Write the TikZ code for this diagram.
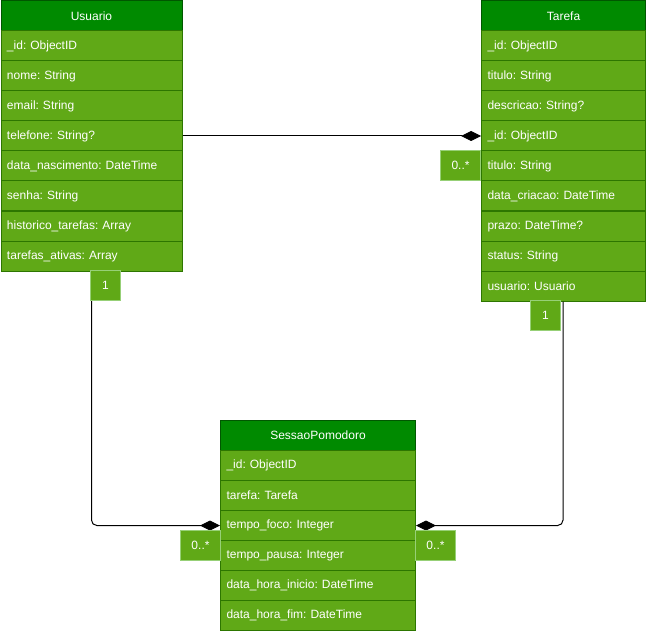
\documentclass[tikz,border=0pt]{standalone}
\usepackage{fontspec}
\setmainfont{Liberation Sans}
\usetikzlibrary{arrows.meta}
\definecolor{hdrfill}{HTML}{008A00}
\definecolor{hdrline}{HTML}{005700}
\definecolor{rowfill}{HTML}{60A917}
\definecolor{rowline}{HTML}{2D7600}
\definecolor{multline}{HTML}{97D077}
\begin{document}
\frenchspacing
\begin{tikzpicture}[x=0.75pt,y=-0.75pt,
  cell/.style={draw=rowline, fill=rowfill, text=white, font=\fontsize{9}{11}\selectfont\frenchspacing,
    minimum height=22.5pt, inner ysep=0pt, inner xsep=4.5pt, anchor=north west,
    align=left, line width=0.75pt},
  hdr/.style={cell, draw=hdrline, fill=hdrfill, align=center},
  mult/.style={draw=multline, fill=rowfill, text=white, font=\fontsize{9}{11}\selectfont,
    minimum height=22.5pt, inner sep=0pt, anchor=north west, line width=0.75pt},
  conn/.style={draw=black, line width=0.75pt, -{Diamond[length=15pt,width=7.5pt]}},
  uw/.style={text width=126.75pt},
  tw/.style={text width=114pt},
  sw/.style={text width=137.25pt}
]
\useasboundingbox (0,0) rectangle (646,631);

% Usuario
\node[hdr,uw] (u0) at (0.5,0.5) {Usuario};
\foreach \t [count=\i] in {\_id: ObjectID, nome: String, email: String, telefone: String?,
  data\_nascimento: DateTime, senha: String, historico\_tarefas: Array, tarefas\_ativas: Array}
  \node[cell,uw] (u\i) at (0.5,0.5+30*\i) {\t};

% Tarefa
\node[hdr,tw] (t0) at (481,0.5) {Tarefa};
\foreach \t [count=\i] in {\_id: ObjectID, titulo: String, descricao: String?, \_id: ObjectID,
  titulo: String, data\_criacao: DateTime, prazo: DateTime?, status: String, usuario: Usuario}
  \node[cell,tw] (t\i) at (481,0.5+30*\i) {\t};

% SessaoPomodoro
\node[hdr,sw] (s0) at (220,420) {SessaoPomodoro};
\foreach \t [count=\i] in {\_id: ObjectID, tarefa: Tarefa, tempo\_foco: Integer,
  tempo\_pausa: Integer, data\_hora\_inicio: DateTime, data\_hora\_fim: DateTime}
  \node[cell,sw] (s\i) at (220,420+30*\i) {\t};

% connectors
\draw[conn] (u4.east) -- (t4.west);
\draw[conn, rounded corners=4pt] ([xshift=68.25pt]u8.south west) |- (s3.west);
\draw[conn, rounded corners=4pt] ([xshift=61.5pt]t9.south west) |- (s3.east);

% multiplicities
\node[mult, minimum width=30pt] (m1) at (440,150) {0..*};
\node[mult, minimum width=22.5pt] (m2) at (90,270) {1};
\node[mult, minimum width=22.5pt] (m3) at (530,300) {1};
\node[mult, minimum width=30pt] (m4) at (180,530) {0..*};
\node[mult, minimum width=30pt] (m5) at (415,530) {0..*};
\end{tikzpicture}
\end{document}
